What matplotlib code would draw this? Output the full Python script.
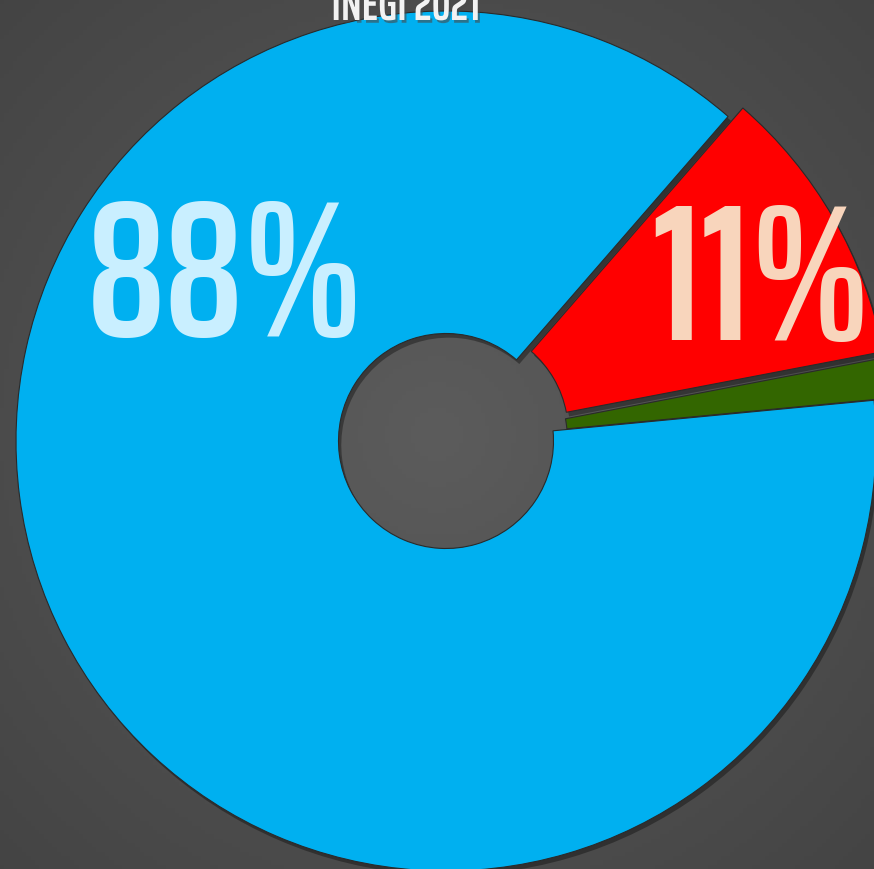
import numpy as np
import matplotlib
matplotlib.use("Agg")
import matplotlib.pyplot as plt
import matplotlib.patheffects as pe

# data: share of population, INEGI 2021
categories = ["Rojo", "Verde", "Azul"]
values = [10.6, 1.5, 87.9]
colors = ["#FF0000", "#336600", "#00B0F0"]
label_colors = ["#F8D5BC", None, "#C9EFFF"]
title = "INEGI 2021"

W, H = 874, 869
fig = plt.figure(figsize=(W / 100, H / 100), dpi=100)

# background: dark radial gradient
bg = fig.add_axes([0, 0, 1, 1])
yy, xx = np.mgrid[0:1:200j, 0:1:200j]
rr = np.sqrt((xx - 0.5) ** 2 + (yy - 0.5) ** 2) / 0.707
c0, c1 = np.array([0x5c, 0x5c, 0x5c]) / 255, np.array([0x44, 0x44, 0x44]) / 255
img = c0[None, None, :] * (1 - rr[..., None]) + c1[None, None, :] * rr[..., None]
bg.imshow(img, extent=[0, 1, 0, 1], aspect="auto")
bg.axis("off")

ax = fig.add_axes([0, 0, 1, 1])
ax.set_aspect("equal")
ax.axis("off")

cx, cy = 446, H - 441
radius, hole = 430, 107.5
wedges, _ = ax.pie(values, colors=colors, startangle=49, counterclock=False,
                   radius=radius, center=(cx, cy), explode=[17, 14, 0],
                   wedgeprops=dict(width=radius - hole, edgecolor="#2a2a2a",
                                   linewidth=0.8))
ax.set_xlim(0, W)
ax.set_ylim(0, H)
for w in wedges:
    w.set_path_effects([pe.SimplePatchShadow(offset=(2, -3), shadow_rgbFace="black",
                                             alpha=0.35), pe.Normal()])

font = ["Saira ExtraCondensed", "DejaVu Sans"]
# label positions: (angle in degrees, distance from wedge centre)
label_pos = [(26.0, 334), None, (144.3, 271)]
for w, v, col, pos in zip(wedges, values, label_colors, label_pos):
    if pos is None:
        continue
    a = np.deg2rad(pos[0])
    x0, y0 = w.center
    ax.text(x0 + pos[1] * np.cos(a), y0 + pos[1] * np.sin(a), f"{round(v)}%",
            color=col, fontsize=140, fontweight=600, family=font,
            ha="center", va="center")

fig.text(406 / W, 1 - 20 / H, title, color="#F2F2F2", fontsize=34,
         fontweight=600, family=font, ha="center", va="baseline",
         path_effects=[pe.withSimplePatchShadow(offset=(1.5, -2), alpha=0.6)])

fig.savefig("out.png", dpi=100)
